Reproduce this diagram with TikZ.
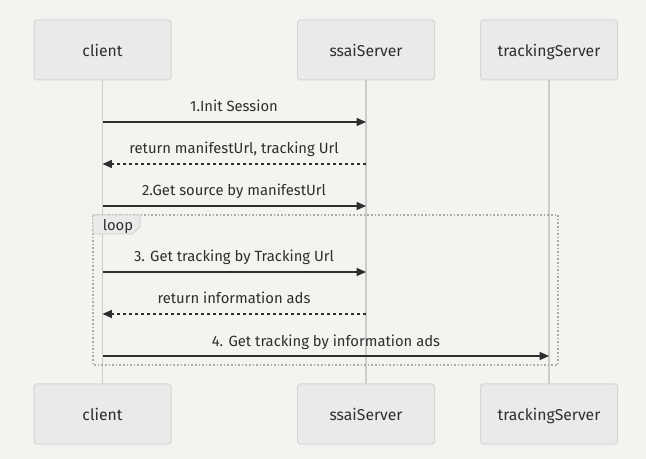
\documentclass[tikz,border=0pt]{standalone}
\usepackage{fontspec}
\setmainfont{Fira Sans}
\usetikzlibrary{arrows.meta}
\definecolor{bg}{HTML}{F4F3EF}
\definecolor{actfill}{HTML}{EAEAEA}
\definecolor{actline}{HTML}{D6D6D6}
\definecolor{life}{HTML}{CCCCCC}
\definecolor{ink}{HTML}{2E2E2E}
\definecolor{loopline}{HTML}{AAAAAA}
\tikzset{
  actor/.style={draw=actline, fill=actfill, rounded corners=2pt, line width=0.75pt,
    minimum width=137*0.75pt, minimum height=60*0.75pt, inner sep=0pt,
    text height=11.8pt, text depth=2.6pt,
    font=\fontsize{11.8}{13}\selectfont, text=ink},
  lifeline/.style={draw=life, line width=1.2pt},
  msg/.style={draw=ink, line width=1pt, -{Triangle[length=7pt,width=6pt]}},
  ret/.style={msg, dash pattern=on 2.5pt off 2pt},
  lbl/.style={font=\fontsize{11.1}{12}\selectfont, text=ink, inner sep=0pt,
    text height=8pt, text depth=2.4pt, yshift=-1.2pt},
}
\begin{document}
\begin{tikzpicture}[x=0.75pt,y=-0.75pt]
\fill[bg] (0,0) rectangle (646,459);
\useasboundingbox (0,0) rectangle (646,459);
% lifelines
\coordinate (cT) at (102.5,80); \coordinate (cB) at (102.5,384);
\coordinate (sT) at (366,80); \coordinate (sB) at (366,384);
\coordinate (tT) at (549,80); \coordinate (tB) at (549,384);
\draw[lifeline] (cT) -- (cB);
\draw[lifeline] (sT) -- (sB);
\draw[lifeline] (tT) -- (tB);
% actors
\node[actor] (c1) at (102.5,50) {client};
\node[actor] (s1) at (366,50) {ssaiServer};
\node[actor] (t1) at (549,50) {trackingServer};
\node[actor] (c2) at (102.5,414) {client};
\node[actor] (s2) at (366,414) {ssaiServer};
\node[actor] (t2) at (549,414) {trackingServer};
% loop
\draw[loopline, line width=0.9pt, dash pattern=on 1.2pt off 1.5pt] (93,215) rectangle (558,365);
\draw[loopline!60, fill=actfill, line width=0.6pt] (93,215) -- (140,215) -- (140,227) -- (132,234) -- (93,234) -- cycle;
\node[lbl, anchor=west] (looplbl) at (102.5,225) {loop};
% messages
\coordinate (m1a) at (102.5,122); \coordinate (m1b) at (366,122);
\draw[msg] (m1a) -- (m1b);
\node[lbl] (l1) at (234,106.5) {1.Init Session};
\coordinate (m2a) at (366,164); \coordinate (m2b) at (102.5,164);
\draw[ret] (m2a) -- (m2b);
\node[lbl] (l2) at (234,148.5) {return manifestUrl, tracking Url};
\coordinate (m3a) at (102.5,206); \coordinate (m3b) at (366,206);
\draw[msg] (m3a) -- (m3b);
\node[lbl] (l3) at (234,190.5) {2.Get source by manifestUrl};
\coordinate (m4a) at (102.5,272); \coordinate (m4b) at (366,272);
\draw[msg] (m4a) -- (m4b);
\node[lbl] (l4) at (234,256.5) {3. Get tracking by Tracking Url};
\coordinate (m5a) at (366,314); \coordinate (m5b) at (102.5,314);
\draw[ret] (m5a) -- (m5b);
\node[lbl] (l5) at (234,298.5) {return information ads};
\coordinate (m6a) at (102.5,356); \coordinate (m6b) at (549,356);
\draw[msg] (m6a) -- (m6b);
\node[lbl] (l6) at (326,341.5) {4. Get tracking by information ads};
\end{tikzpicture}
\end{document}
